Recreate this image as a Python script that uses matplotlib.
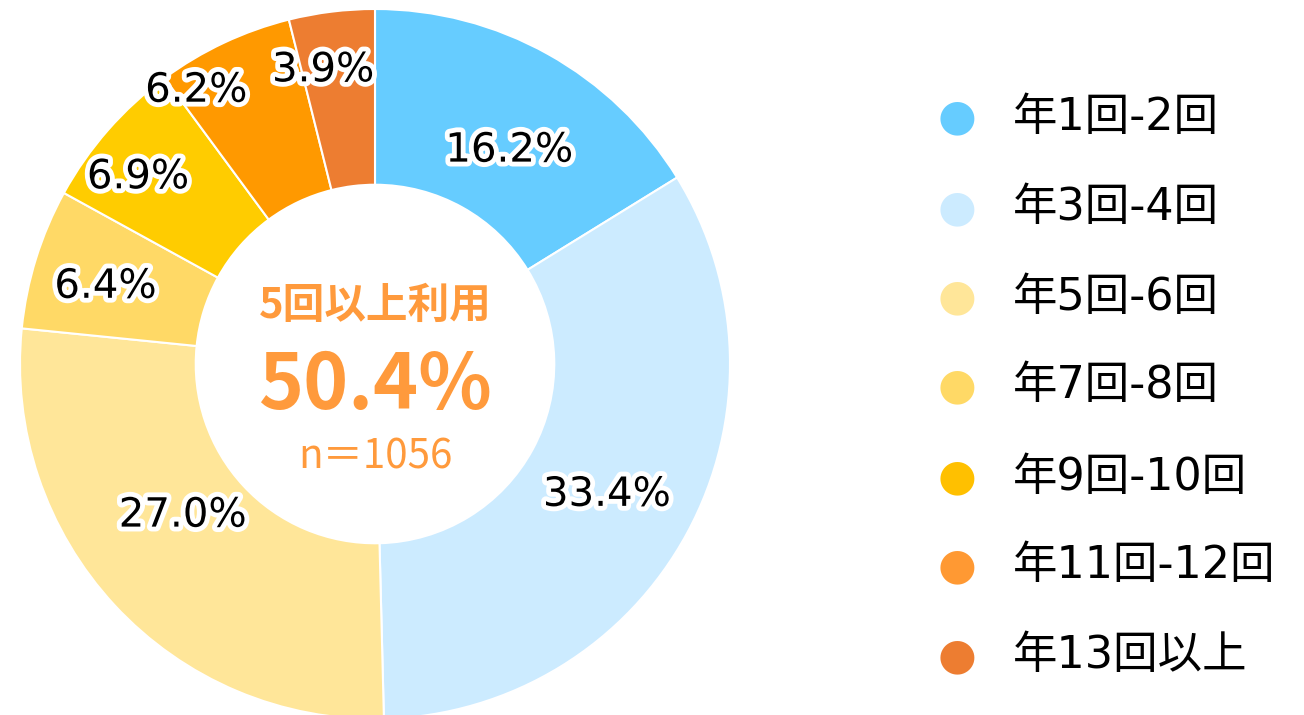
import numpy as np
import matplotlib.pyplot as plt
import matplotlib.patheffects as pe

# データ
labels = ['年1回-2回', '年3回-4回', '年5回-6回', '年7回-8回', '年9回-10回', '年11回-12回', '年13回以上']
values = [16.2, 33.4, 27.0, 6.4, 6.9, 6.2, 3.9]
colors = ['#66CCFF', '#CCEBFF', '#FFE699', '#FFD966', '#FFCC00', '#FF9900', '#ED7D31']
legend_colors = ['#66CCFF', '#CCEBFF', '#FFE699', '#FFD966', '#FFC000', '#FF9933', '#ED7D31']
center_title = '5回以上利用'
center_value = '50.4%'
center_n = 'n＝1056'

# ラベル位置の微調整 (半径, 角度オフセット)
label_r = [0.71, 0.75, 0.69, 0.79, 0.85, 0.92, 0.84]
label_da = [-3, -1, -4.6, 1.3, 3, 8, 3]

W, H = 1304, 715
fig = plt.figure(figsize=(W / 100, H / 100), dpi=100)
cx, cy, R = 375, 364, 355
ax = fig.add_axes([(cx - R) / W, (H - cy - R) / H, 2 * R / W, 2 * R / H])

wedges, _ = ax.pie(values, colors=colors, startangle=90, counterclock=False,
                   radius=1.0, wedgeprops=dict(width=0.495, edgecolor='white', linewidth=1.5))
ax.set_xlim(-1, 1)
ax.set_ylim(-1, 1)
ax.set_aspect('equal')
ax.axis('off')

glow = [pe.withStroke(linewidth=7, foreground='white')]
for w, v, r, da in zip(wedges, values, label_r, label_da):
    a = np.deg2rad((w.theta1 + w.theta2) / 2 + da)
    ax.text(r * np.cos(a), r * np.sin(a), f'{v:.1f}%', ha='center', va='center',
            fontsize=29, color='black', family='DejaVu Sans', path_effects=glow)

orange = '#FF9A3C'
cjk = ['Noto Sans CJK JP', 'DejaVu Sans']
ax.text(0, (364 - 306) / R, center_title, ha='center', va='center', fontsize=30,
        fontweight='bold', color=orange, family=cjk)
ax.text(0, (364 - 386) / R, center_value, ha='center', va='center', fontsize=55,
        fontweight='bold', color=orange, family=cjk)
ax.text(0, (364 - 457) / R, center_n, ha='center', va='center', fontsize=29,
        color=orange, family=cjk)

# 凡例
row_y = [117, 208, 297, 386, 477, 566, 656]
for lab, c, y in zip(labels, legend_colors, row_y):
    fig.text(957 / W, 1 - y / H, '●', ha='center', va='center', fontsize=32, color=c,
             family='DejaVu Sans')
    fig.text(1013 / W, 1 - y / H, lab, ha='left', va='center', fontsize=32, color='black',
             family=['DejaVu Sans', 'Noto Sans CJK JP'])

fig.savefig('out.png', dpi=100, facecolor='white')
